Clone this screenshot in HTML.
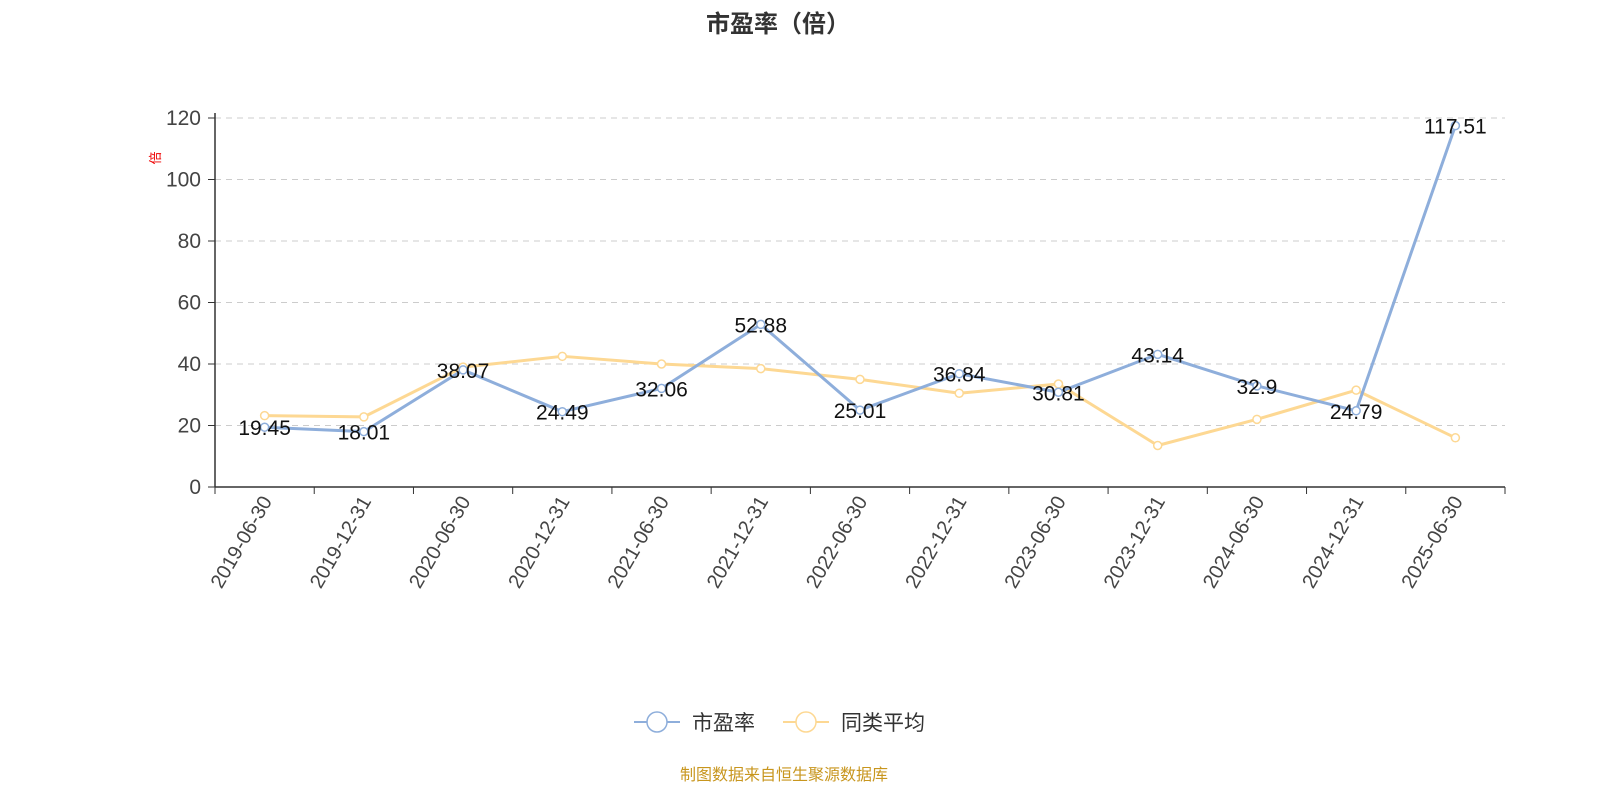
<!DOCTYPE html>
<html><head><meta charset="utf-8"><style>
body{margin:0;background:#fff;width:1600px;height:800px;overflow:hidden}
svg{font-family:"Liberation Sans","Noto Sans CJK SC",sans-serif}
</style></head><body>
<svg id="chart" width="1600" height="800" xmlns="http://www.w3.org/2000/svg">
<text x="778" y="32" text-anchor="middle" font-size="24" font-weight="bold" fill="#333">市盈率（倍）</text>
<text transform="translate(160,158) rotate(-90)" text-anchor="middle" font-size="13" fill="#e00">倍</text>
<g id="grid"></g><g id="axes"></g><g id="series"></g>
<g>
<g><line x1="634" y1="722" x2="680" y2="722" stroke="#8eaedb" stroke-width="2"/><circle cx="657" cy="722" r="10" fill="#fff" stroke="#8eaedb" stroke-width="1.5"/><text x="692" y="730" font-size="21" fill="#333">市盈率</text></g>
<g><line x1="783" y1="722" x2="829" y2="722" stroke="#fdd893" stroke-width="2"/><circle cx="806" cy="722" r="10" fill="#fff" stroke="#fdd893" stroke-width="1.5"/><text x="841" y="730" font-size="21" fill="#333">同类平均</text></g>
</g>
<text x="784" y="780" text-anchor="middle" font-size="16" fill="#c8961e">制图数据来自恒生聚源数据库</text>
</svg>
<script>
const categories=["2019-06-30","2019-12-31","2020-06-30","2020-12-31","2021-06-30","2021-12-31","2022-06-30","2022-12-31","2023-06-30","2023-12-31","2024-06-30","2024-12-31","2025-06-30"];
const peValues=[19.45,18.01,38.07,24.49,32.06,52.88,25.01,36.84,30.81,43.14,32.9,24.79,117.51];
const peerValues=[23.2,22.8,39,42.5,40,38.5,35,30.5,33.5,13.5,22,31.5,16];
const yTicks=[0,20,40,60,80,100,120];
const NS="http://www.w3.org/2000/svg";
const L=215,R=1505,T=118,B=487,ymax=120;
const bw=(R-L)/categories.length;
const x=i=>L+bw*(i+0.5);
const y=v=>B-(v/ymax)*(B-T);
function mk(tag,attrs,parent){const e=document.createElementNS(NS,tag);for(const k in attrs)e.setAttribute(k,attrs[k]);parent.appendChild(e);return e;}
const grid=document.getElementById('grid'),axes=document.getElementById('axes'),series=document.getElementById('series');
yTicks.forEach(t=>{
 if(t>0){const g=mk('line',{x1:L,x2:R,y1:y(t),y2:y(t),stroke:'#ccc','stroke-dasharray':'6,5'},grid);
 
 }
 const tk=mk('line',{x1:L-7,x2:L,y1:y(t),y2:y(t),stroke:'#333'},axes);
 
 
 const lb=mk('text',{x:L-14,y:y(t)+7,'text-anchor':'end','font-size':21,fill:'#444'},axes);lb.textContent=t;
 
 
});
const ya=mk('line',{x1:L,x2:L,y1:T-5,y2:B,stroke:'#333','stroke-width':1.5},axes);


const xa=mk('line',{x1:L,x2:R,y1:B,y2:B,stroke:'#333','stroke-width':1.5},axes);


for(let i=0;i<=categories.length;i++){const tk=mk('line',{x1:L+bw*i,x2:L+bw*i,y1:B,y2:B+7,stroke:'#333'},axes);
 
 }
categories.forEach((c,i)=>{const t=mk('text',{transform:`translate(${x(i)+8},${B+14}) rotate(-60)`,'text-anchor':'end','font-size':20,fill:'#444'},axes);t.textContent=c;
 
 });
function drawSeries(vals,color,name,labels){
 const p=mk('polyline',{points:vals.map((v,i)=>x(i)+','+y(v)).join(' '),fill:'none',stroke:color,'stroke-width':3,'stroke-linejoin':'round'},series);
 
 
 vals.forEach((v,i)=>{const c=mk('circle',{cx:x(i),cy:y(v),r:4,fill:'#fff',stroke:color,'stroke-width':1.5},series);
  
  });
 if(labels)vals.forEach((v,i)=>{const t=mk('text',{x:x(i),y:y(v)+8,'text-anchor':'middle','font-size':21,fill:'#111'},series);t.textContent=v;
  
  });
}
drawSeries(peerValues,'#fdd893','peer-average',false);
drawSeries(peValues,'#8eaedb','pe-ratio',true);
</script>
</body></html>
